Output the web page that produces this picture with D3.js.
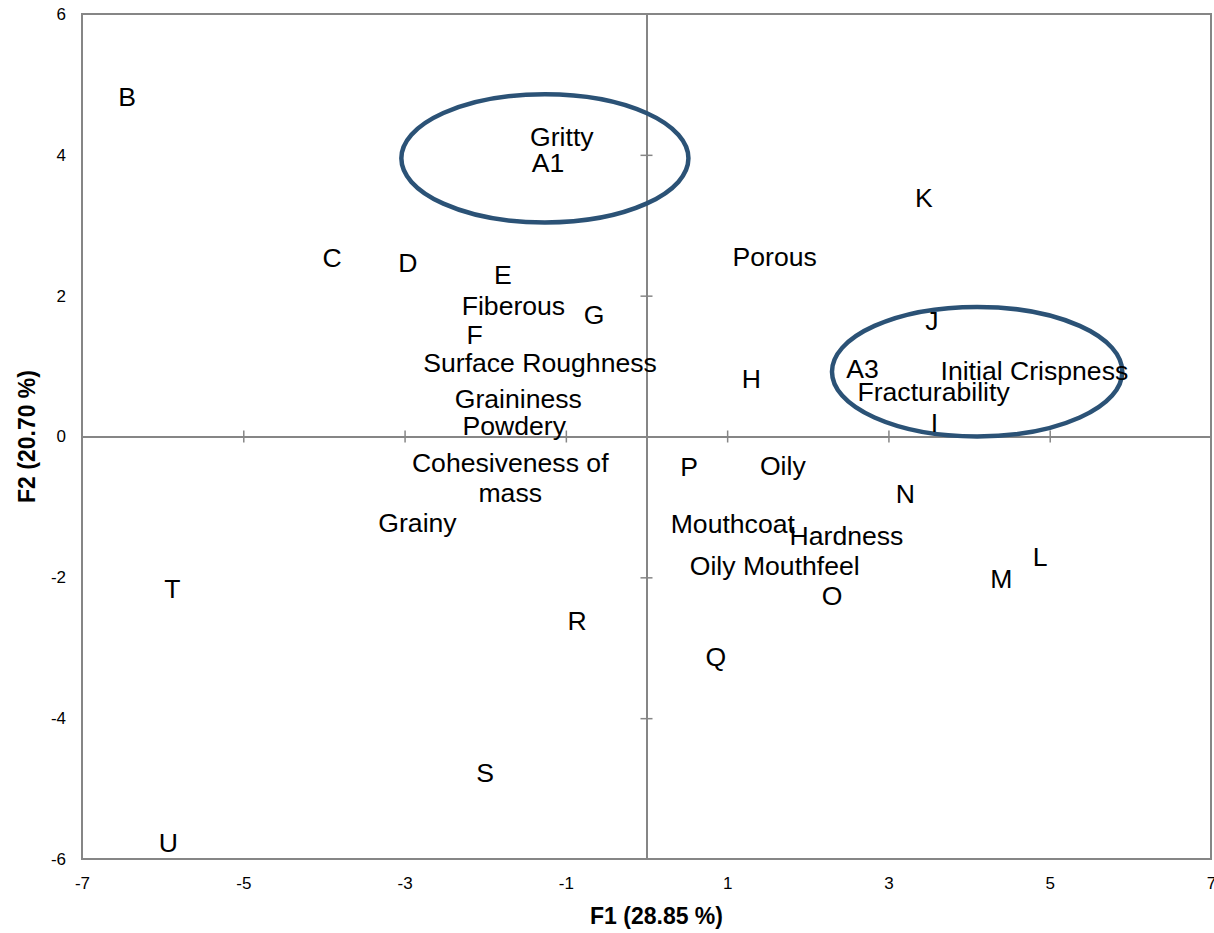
<!DOCTYPE html>
<html>
<head>
<meta charset="utf-8">
<script src="https://cdn.jsdelivr.net/npm/d3@7"></script>
<style>
  html, body { margin: 0; padding: 0; background: #fff; }
  text { font-family: Arial, "Liberation Sans", sans-serif; }
</style>
</head>
<body>
<svg id="chart" width="1214" height="933"></svg>
<script>
// Observation and attribute labels on the first two factor axes
const labels = ["B", "Gritty", "A1", "K", "C", "D", "Porous", "E", "Fiberous", "G", "F", "J",
  "Surface Roughness", "A3", "Initial Crispness", "H", "Fracturability", "Graininess", "Powdery", "I",
  "Cohesiveness of|mass", "P", "Oily", "N", "Grainy", "Mouthcoat", "Hardness", "L", "Oily Mouthfeel",
  "M", "T", "O", "R", "Q", "S", "U"];
const f1 = [-6.44, -1.05, -1.22, 3.44, -3.90, -2.96, 1.59, -1.78, -1.65, -0.65, -2.13, 3.54,
  -1.32, 2.68, 4.81, 1.30, 3.56, -1.59, -1.64, 3.57,
  -1.69, 0.53, 1.69, 3.21, -2.84, 1.07, 2.48, 4.88, 1.59,
  4.40, -5.88, 2.30, -0.86, 0.86, -2.00, -5.93];
const f2 = [4.83, 4.26, 3.89, 3.39, 2.54, 2.47, 2.56, 2.30, 1.86, 1.73, 1.45, 1.65,
  1.05, 0.97, 0.94, 0.82, 0.63, 0.54, 0.16, 0.20,
  -0.58, -0.43, -0.41, -0.81, -1.22, -1.24, -1.41, -1.70, -1.83,
  -2.02, -2.16, -2.26, -2.61, -3.13, -4.77, -5.77];

// Grouping ellipses (centre and radii in factor units)
const ellipseCx = [-1.26, 4.10];
const ellipseCy = [3.95, 0.92];
const ellipseRx = [1.78, 1.80];
const ellipseRy = [0.91, 0.92];

const xTicks = [-7, -5, -3, -1, 1, 3, 5, 7];
const yTicks = [-6, -4, -2, 0, 2, 4, 6];
const xTitle = "F1 (28.85 %)";
const yTitle = "F2 (20.70 %)";

const W = 1214, H = 933;
const margin = { top: 14, right: 3, bottom: 74, left: 82 };
const svg = d3.select("#chart");

const x = d3.scaleLinear().domain([-7, 7]).range([margin.left, W - margin.right]);
const y = d3.scaleLinear().domain([-6, 6]).range([H - margin.bottom, margin.top]);

const grey = "#868686";
const plainNum = d => String(d);

// Plot frame
svg.append("rect")
  .attr("x", x(-7)).attr("y", y(6))
  .attr("width", x(7) - x(-7)).attr("height", y(-6) - y(6))
  .attr("fill", "none").attr("stroke", grey).attr("stroke-width", 2);

// Zero axes with crossing ticks
const xAxisInner = d3.axisBottom(x).tickValues(xTicks.filter(v => Math.abs(v) < 7))
  .tickSize(0).tickFormat("");
const gx = svg.append("g").attr("transform", `translate(0,${y(0)})`).call(xAxisInner);
gx.select(".domain").attr("stroke", grey).attr("stroke-width", 2);
gx.selectAll(".tick").append("line").attr("y1", -6).attr("y2", 6)
  .attr("stroke", grey).attr("stroke-width", 1.5);

const yAxisInner = d3.axisLeft(y).tickValues(yTicks.filter(v => Math.abs(v) < 6 && v !== 0))
  .tickSize(0).tickFormat("");
const gy = svg.append("g").attr("transform", `translate(${x(0)},0)`).call(yAxisInner);
gy.select(".domain").attr("stroke", grey).attr("stroke-width", 2);
gy.selectAll(".tick").append("line").attr("x1", -6).attr("x2", 6)
  .attr("stroke", grey).attr("stroke-width", 1.5);

// Tick labels outside the frame
const xAxisOuter = d3.axisBottom(x).tickValues(xTicks).tickSize(0).tickPadding(18).tickFormat(plainNum);
const gxo = svg.append("g").attr("transform", `translate(0,${y(-6)})`).call(xAxisOuter);
gxo.select(".domain").remove();
gxo.selectAll("text").attr("font-size", 17).attr("fill", "#000")
  .attr("font-family", "Arial, 'Liberation Sans', sans-serif");

const yAxisOuter = d3.axisLeft(y).tickValues(yTicks).tickSize(0).tickPadding(16).tickFormat(plainNum);
const gyo = svg.append("g").attr("transform", `translate(${x(-7)},0)`).call(yAxisOuter);
gyo.select(".domain").remove();
gyo.selectAll("text").attr("font-size", 17).attr("fill", "#000")
  .attr("font-family", "Arial, 'Liberation Sans', sans-serif");

// Ellipses
svg.append("g").selectAll("ellipse").data(ellipseCx).join("ellipse")
  .attr("cx", (d, i) => x(ellipseCx[i]))
  .attr("cy", (d, i) => y(ellipseCy[i]))
  .attr("rx", (d, i) => x(ellipseRx[i]) - x(0))
  .attr("ry", (d, i) => y(0) - y(ellipseRy[i]))
  .attr("fill", "none").attr("stroke", "#2b5276").attr("stroke-width", 4.5);

// Point labels
const pts = labels.map((l, i) => ({ lines: l.split("|"), x: f1[i], y: f2[i] }));
const lineH = 30;
svg.append("g").selectAll("text").data(pts).join("text")
  .attr("text-anchor", "middle")
  .attr("font-size", 26.6)
  .attr("fill", "#000")
  .each(function (d) {
    const t = d3.select(this);
    const n = d.lines.length;
    d.lines.forEach((ln, k) => {
      t.append("tspan")
        .attr("x", x(d.x))
        .attr("y", y(d.y) + (k - (n - 1) / 2) * lineH)
        .attr("dy", "0.35em")
        .text(ln);
    });
  });

// Axis titles
svg.append("text")
  .attr("x", x(0) + 10).attr("y", 916)
  .attr("text-anchor", "middle").attr("dy", "0.35em")
  .attr("font-size", 23).attr("font-weight", "bold").attr("fill", "#000")
  .text(xTitle);

svg.append("text")
  .attr("transform", `translate(27,${y(0)}) rotate(-90)`)
  .attr("text-anchor", "middle").attr("dy", "0.35em")
  .attr("font-size", 23).attr("font-weight", "bold").attr("fill", "#000")
  .text(yTitle);
</script>
</body>
</html>
